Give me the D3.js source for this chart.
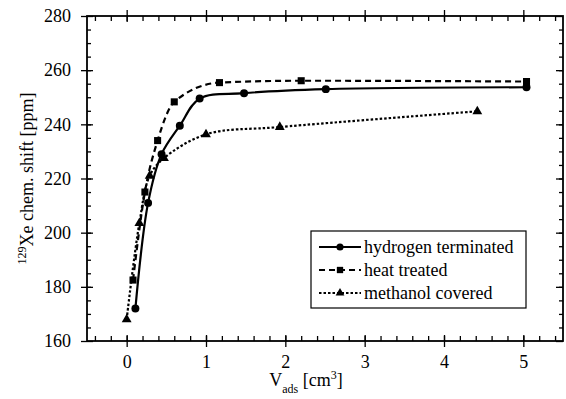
<!DOCTYPE html>
<html>
<head>
<meta charset="utf-8">
<script src="https://cdn.jsdelivr.net/npm/d3@7"></script>
<style>
  body { margin: 0; background: #fff; }
  svg, svg text { font-family: "Liberation Serif", "Times New Roman", Times, "DejaVu Serif", serif !important; }
</style>
</head>
<body>
<div id="chart"></div>
<script>
// Xe-129 chemical shift vs adsorbed volume
const hydrogenTerminated = [[0.11,172],[0.27,211],[0.44,229],[0.67,239.5],[0.92,249.5],[1.48,251.5],[2.51,253],[5.04,253.7]];
const heatTreated = [[0.08,182.5],[0.23,215],[0.39,234],[0.6,248.3],[1.17,255.4],[2.2,256.1],[5.04,255.8]];
const methanolCovered = [[0,168],[0.16,203.5],[0.29,221],[0.47,227.5],[1.0,236.3],[1.93,239],[4.42,244.8]];

const xTicks = [0, 1, 2, 3, 4, 5];
const yTicks = [160, 180, 200, 220, 240, 260, 280];

const legendLabels = ['hydrogen terminated', 'heat treated', 'methanol covered'];

const width = 566, height = 399;
const margin = { top: 16, right: 3, bottom: 58, left: 87 };
const innerW = width - margin.left - margin.right;
const innerH = height - margin.top - margin.bottom;

const x = d3.scaleLinear().domain([-0.5, 5.5]).range([0, innerW]);
const y = d3.scaleLinear().domain([160, 280]).range([innerH, 0]);

const svg = d3.select('#chart').append('svg')
  .attr('width', width).attr('height', height);

const g = svg.append('g').attr('transform', `translate(${margin.left},${margin.top})`);

const xMinor = d3.range(-0.4, 5.5, 0.2).map(v => +v.toFixed(1));
const yMinor = d3.range(165, 280, 5);

function styleAxis(sel) {
  sel.attr('font-family', null);
  sel.select('.domain').remove();
  sel.selectAll('line').attr('stroke', '#000').attr('stroke-width', 1.3);
  sel.selectAll('text').attr('fill', '#000').style('font-size', '18px');
}

// bottom
g.append('g').attr('transform', `translate(0,${innerH})`)
  .call(d3.axisBottom(x).tickValues(xTicks).tickSize(6).tickPadding(8).tickFormat(d3.format('d')))
  .call(styleAxis);
g.append('g').attr('transform', `translate(0,${innerH})`)
  .call(d3.axisBottom(x).tickValues(xMinor).tickSize(-5).tickFormat(''))
  .call(styleAxis);
g.append('g').attr('transform', `translate(0,${innerH})`)
  .call(d3.axisBottom(x).tickValues(xTicks).tickSize(-6).tickFormat(''))
  .call(styleAxis);
// top
g.append('g')
  .call(d3.axisTop(x).tickValues(xTicks).tickSize(6).tickFormat(''))
  .call(styleAxis);
g.append('g')
  .call(d3.axisTop(x).tickValues(xMinor).tickSize(-5).tickFormat(''))
  .call(styleAxis);
g.append('g')
  .call(d3.axisTop(x).tickValues(xTicks).tickSize(-6).tickFormat(''))
  .call(styleAxis);
// left
g.append('g')
  .call(d3.axisLeft(y).tickValues(yTicks).tickSize(6).tickPadding(10).tickFormat(d3.format('d')))
  .call(styleAxis);
g.append('g')
  .call(d3.axisLeft(y).tickValues(yMinor).tickSize(-4).tickFormat(''))
  .call(styleAxis);
g.append('g')
  .call(d3.axisLeft(y).tickValues(yTicks).tickSize(-6).tickFormat(''))
  .call(styleAxis);
// right
g.append('g').attr('transform', `translate(${innerW},0)`)
  .call(d3.axisRight(y).tickValues(yMinor).tickSize(-4).tickFormat(''))
  .call(styleAxis);
g.append('g').attr('transform', `translate(${innerW},0)`)
  .call(d3.axisRight(y).tickValues(yTicks).tickSize(-7).tickFormat(''))
  .call(styleAxis);

// frame
g.append('rect').attr('width', innerW).attr('height', innerH)
  .attr('fill', 'none').attr('stroke', '#000').attr('stroke-width', 1.8);

const series = [
  { data: hydrogenTerminated, dash: null, sym: d3.symbolCircle, size: 50, curve: d3.curveCatmullRom.alpha(0.5) },
  { data: heatTreated, dash: '6,4', sym: d3.symbolSquare, size: 50, curve: d3.curveMonotoneX },
  { data: methanolCovered, dash: '2.5,2', sym: d3.symbolTriangle, size: 42, curve: d3.curveCatmullRom.alpha(0.5) },
];

series.forEach(s => {
  const line = d3.line().x(d => x(d[0])).y(d => y(d[1])).curve(s.curve);
  g.append('path').datum(s.data)
    .attr('d', line)
    .attr('fill', 'none').attr('stroke', '#000').attr('stroke-width', 2.2)
    .attr('stroke-dasharray', s.dash);
  g.selectAll(null).data(s.data).join('path')
    .attr('transform', d => `translate(${x(d[0])},${y(d[1])})`)
    .attr('d', d3.symbol(s.sym, s.size))
    .attr('fill', '#000');
});

// legend
const lg = svg.append('g').attr('transform', 'translate(311,231)');
lg.append('rect').attr('width', 215).attr('height', 77)
  .attr('fill', '#fff').attr('stroke', '#000').attr('stroke-width', 1.2);
series.forEach((s, i) => {
  const ly = 16 + i * 23;
  lg.append('line').attr('x1', 8).attr('x2', 50).attr('y1', ly).attr('y2', ly)
    .attr('stroke', '#000').attr('stroke-width', 2.2).attr('stroke-dasharray', s.dash);
  lg.append('path').attr('transform', `translate(29,${ly})`)
    .attr('d', d3.symbol(s.sym, s.size * 0.8)).attr('fill', '#000');
  lg.append('text').attr('x', 53).attr('y', ly + 6)
    .style('font-size', '18px').text(legendLabels[i]);
});

// axis titles
const yl = svg.append('text')
  .attr('transform', `translate(33,${margin.top + innerH / 2}) rotate(-90)`)
  .attr('text-anchor', 'middle').style('font-size', '18px');
yl.append('tspan').attr('baseline-shift', 'super').style('font-size', '12px').text('129');
yl.append('tspan').text('Xe chem. shift [ppm]');

const xl = svg.append('text').attr('x', 306).attr('y', 386)
  .attr('text-anchor', 'middle').style('font-size', '18px');
xl.append('tspan').text('V');
xl.append('tspan').attr('baseline-shift', 'sub').style('font-size', '12px').text('ads');
xl.append('tspan').text(' [cm');
xl.append('tspan').attr('baseline-shift', 'super').style('font-size', '12px').text('3');
xl.append('tspan').text(']');
</script>
</body>
</html>
